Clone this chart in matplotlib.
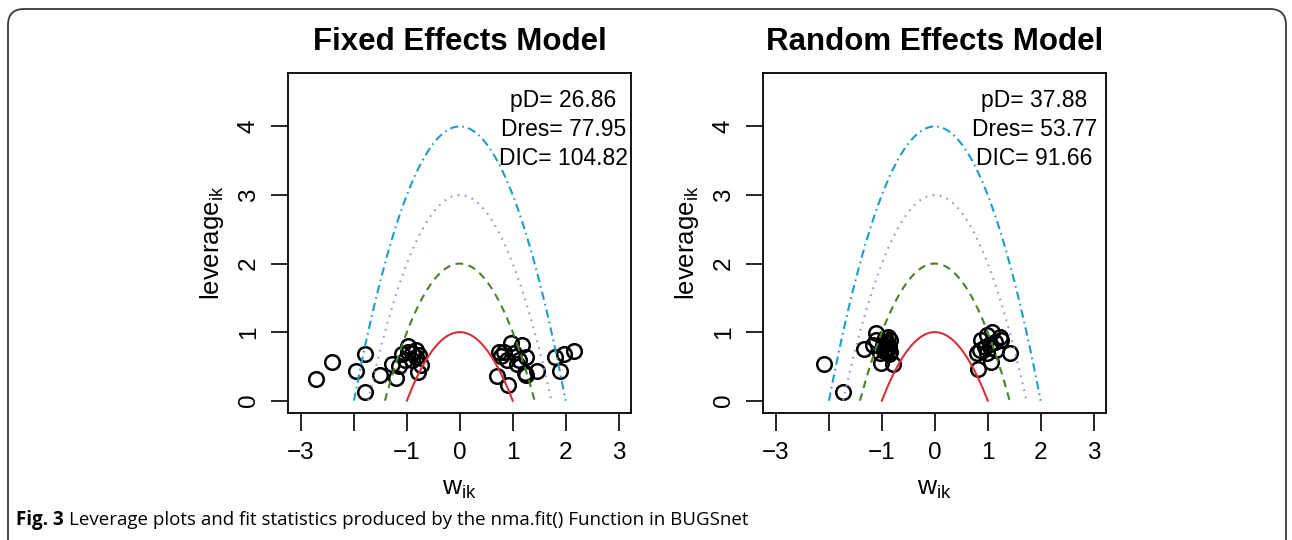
"""Leverage plots for fixed and random effects NMA models."""

import matplotlib

matplotlib.use("Agg")
import matplotlib.pyplot as plt
import numpy as np
from matplotlib.patches import FancyBboxPatch

plt.rcParams["font.family"] = ["Liberation Sans", "DejaVu Sans"]
plt.rcParams["mathtext.fontset"] = "custom"
plt.rcParams["mathtext.rm"] = "Liberation Sans"
plt.rcParams["mathtext.it"] = "Liberation Sans:italic"
plt.rcParams["mathtext.bf"] = "Liberation Sans:bold"
plt.rcParams["lines.scale_dashes"] = False

# data
fe_w = [-2.71, -2.42, -1.97, -1.80, -1.80, -1.50, -1.29, -1.20, -1.14, -1.09,
        -0.97, -0.90, -0.83, -0.90, -1.04, -0.77, -0.73, -0.79, -0.98, -0.83,
        0.71, 0.92, 0.78, 0.84, 0.97, 1.17, 1.03, 0.89, 1.12, 1.25,
        1.23, 1.25, 1.45, 1.09, 0.74, 1.79, 1.96, 2.15, 1.90]
fe_lev = [0.31, 0.57, 0.43, 0.68, 0.12, 0.37, 0.54, 0.33, 0.50, 0.68,
          0.80, 0.70, 0.64, 0.59, 0.60, 0.66, 0.52, 0.42, 0.71, 0.74,
          0.36, 0.23, 0.65, 0.71, 0.84, 0.81, 0.69, 0.60, 0.60, 0.63,
          0.40, 0.37, 0.44, 0.54, 0.71, 0.63, 0.68, 0.73, 0.43]

re_w = [-2.10, -1.74, -1.34, -1.12, -1.11, -1.04, -1.01, -0.79, -0.95, -0.90,
        -0.87, -0.93, -0.85, -0.98, -0.84, -1.16, -0.92, -0.88, -0.96, -0.89,
        -0.86,
        0.82, 0.79, 1.07, 1.43, 1.23, 1.25, 1.09, 0.98, 0.88, 0.95,
        1.04, 0.85, 1.14, 0.98, 1.16]
re_lev = [0.53, 0.12, 0.75, 0.98, 0.88, 0.69, 0.55, 0.53, 0.91, 0.83,
          0.79, 0.74, 0.88, 0.81, 0.71, 0.81, 0.86, 0.76, 0.72, 0.93,
          0.68,
          0.46, 0.69, 0.57, 0.70, 0.93, 0.88, 1.00, 0.96, 0.88, 0.79,
          0.83, 0.74, 0.86, 0.69, 0.74]

titles = ["Fixed Effects Model", "Random Effects Model"]
stats = [["pD= 26.86", "Dres= 77.95", "DIC= 104.82"],
         ["pD= 37.88", "Dres= 53.77", "DIC= 91.66"]]

# parabola levels w^2 + leverage = c
levels = [1, 2, 3, 4]
curve_cols = ["#d8303c", "#4f7f2a", "#9d8fd4", "#1f9ccf"]
curve_dash = [None, (5.5, 4), (1.2, 4), (6, 3, 1.2, 3)]

W, H = 1292, 540
fig = plt.figure(figsize=(W / 100, H / 100), dpi=100)

ax_left = [288.3, 763.3]
ax_w = 343.0
ax_top, ax_bot = 72.7, 413.3
stat_x = [0.802, 0.790]

for i, (w, lev) in enumerate([(fe_w, fe_lev), (re_w, re_lev)]):
    ax = fig.add_axes([ax_left[i] / W, 1 - ax_bot / H, ax_w / W, (ax_bot - ax_top) / H])

    ax.plot(w, lev, "o", ms=10.5, mfc="none", mec="black", mew=1.8, zorder=2)

    for c, col, dash in zip(levels, curve_cols, curve_dash):
        xs = np.linspace(-np.sqrt(c), np.sqrt(c), 200)
        (ln,) = ax.plot(xs, c - xs ** 2, color=col, lw=1.5, zorder=3)
        if dash is not None:
            ln.set_dashes(dash)

    ax.set_xlim(-3.24, 3.24)
    ax.set_ylim(-0.184, 4.784)
    ax.set_xticks([-3, -1, 0, 1, 2, 3])
    ax.set_xticks([-2], minor=True)
    ax.set_yticks([0, 1, 2, 3, 4])
    ax.tick_params(axis="both", which="both", direction="out", width=1.2, labelsize=17.5, pad=8)
    ax.tick_params(axis="x", which="both", length=13)
    ax.tick_params(axis="y", length=12.5)
    for lab in ax.get_yticklabels():
        lab.set_rotation(90)
        lab.set_va("center")
    for sp in ax.spines.values():
        sp.set_linewidth(1.3)

    ax.text(0.5, (ax_bot - 489) / (ax_bot - ax_top), r"$\mathrm{w_{ik}}$",
            transform=ax.transAxes, ha="center", va="center", fontsize=19)
    ax.text((212 - 288.3) / ax_w, 0.5,
            r"$\mathrm{leverage_{ik}}$", transform=ax.transAxes,
            ha="center", va="center", rotation=90, fontsize=18.5)

    for k, s in enumerate(stats[i]):
        ax.text(stat_x[i], 0.917 - 0.085 * k, s, transform=ax.transAxes,
                ha="center", va="center", fontsize=16.5)

    fig.text((ax_left[i] + ax_w / 2) / W, 1 - 50 / H, titles[i],
             ha="center", va="baseline", fontsize=22.5, fontweight="bold")

# outer rounded frame
frame = FancyBboxPatch((8 / 100, -0.5), (1286 - 8) / 100, (H - 9) / 100 + 0.5,
                       boxstyle="round,pad=0,rounding_size=0.16",
                       transform=fig.dpi_scale_trans, fill=False,
                       edgecolor="#3a3a3a", lw=1.3)
fig.add_artist(frame)

# caption
cap_y = 1 - 520 / H
t1 = fig.text(16 / W, cap_y, "Fig. 3", family=["Open Sans", "DejaVu Sans"],
              fontweight="bold", fontsize=13.5, va="center")
renderer = fig.canvas.get_renderer()
bb = t1.get_window_extent(renderer)
fig.text(bb.x1 / W + 5 / W, cap_y,
         "Leverage plots and fit statistics produced by the nma.fit() Function in BUGSnet",
         family=["Open Sans", "DejaVu Sans"], fontsize=13.5, va="center")

fig.savefig("out.png", dpi=100)
plt.close(fig)
